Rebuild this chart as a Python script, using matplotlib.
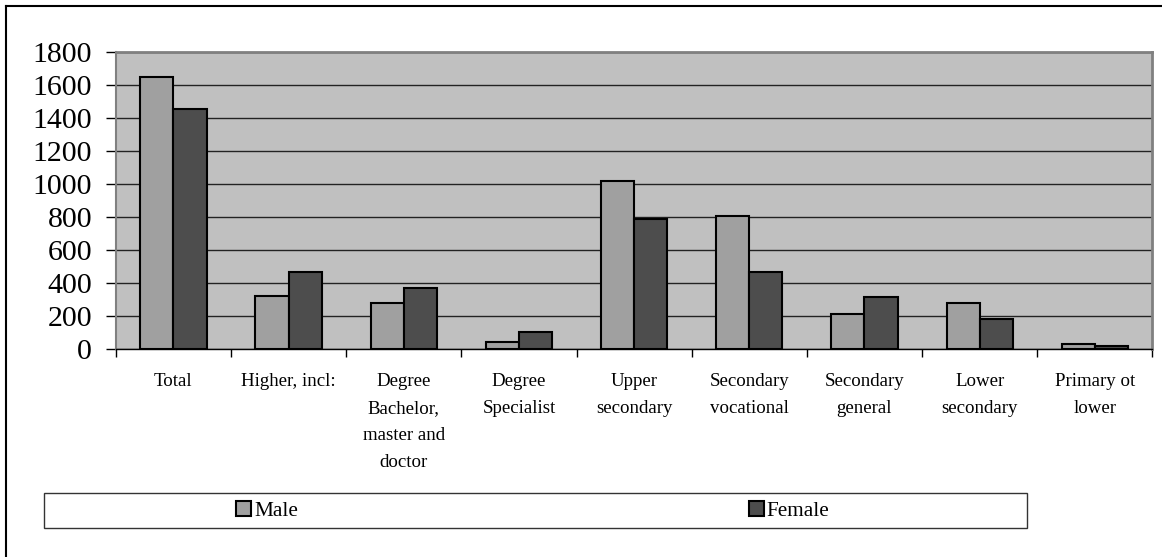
import matplotlib.pyplot as plt
import numpy as np
from matplotlib.lines import Line2D

categories = ["Total", "Higher, incl:", "Degree\nBachelor,\nmaster and\ndoctor",
              "Degree\nSpecialist", "Upper\nsecondary", "Secondary\nvocational",
              "Secondary\ngeneral", "Lower\nsecondary", "Primary ot\nlower"]
male = [1652, 323, 279, 44, 1022, 810, 214, 279, 32]
female = [1459, 471, 370, 103, 788, 469, 317, 182, 22]
yticks = [0, 200, 400, 600, 800, 1000, 1200, 1400, 1600, 1800]

plt.rcParams['font.family'] = ['Liberation Serif', 'DejaVu Serif']

fig = plt.figure(figsize=(11.62, 5.57), dpi=100)
ax = fig.add_axes([0.0996, 0.3729, 0.8922, 0.5332])

x = np.arange(len(categories))
w = 0.288
ax.set_facecolor('#c0c0c0')
ax.bar(x - w / 2, male, w, color='#a0a0a0', edgecolor='black', linewidth=1.5, zorder=3, label='Male')
ax.bar(x + w / 2, female, w, color='#4d4d4d', edgecolor='black', linewidth=1.5, zorder=3, label='Female')

ax.set_xlim(-0.5, len(categories) - 0.5)
ax.set_ylim(0, 1800)
ax.set_yticks(yticks)
ax.set_yticklabels([str(v) for v in yticks], fontsize=21.5)
ax.yaxis.grid(True, color='#222222', linewidth=1, zorder=1)
ax.set_axisbelow(True)

ax.set_xticks(x)
ax.set_xticklabels(categories, fontsize=13.6, linespacing=1.77, va='top')
ax.set_xticks(np.arange(len(categories) + 1) - 0.5, minor=True)
ax.tick_params(axis='x', which='major', length=0, pad=17)
ax.tick_params(axis='x', which='minor', length=6, width=1, color='black', direction='out')
ax.tick_params(axis='y', length=7, width=1, color='black', pad=10)

for s in ['top', 'right']:
    ax.spines[s].set_color('#808080')
    ax.spines[s].set_linewidth(2)
ax.spines['left'].set_color('#808080')
ax.spines['left'].set_linewidth(1.5)
ax.spines['bottom'].set_color('black')
ax.spines['bottom'].set_linewidth(1)

# legend box
fig.patches.append(plt.Rectangle((44 / 1162, 1 - 528 / 557), 983 / 1162, 35 / 557,
                                 transform=fig.transFigure, facecolor='white',
                                 edgecolor='#333333', linewidth=1))
handles, labels = ax.get_legend_handles_labels()
fig.legend(handles, labels, loc='center', bbox_to_anchor=(533 / 1162, 1 - 511 / 557),
           ncol=2, frameon=False, fontsize=15.3, handlelength=0.7, handleheight=0.7,
           handletextpad=0.15, columnspacing=21.2, borderpad=0)

# outer frame (left and top only visible)
fig.add_artist(Line2D([6 / 1162, 6 / 1162], [0, 1 - 6 / 557], transform=fig.transFigure,
                      color='black', linewidth=1.5))
fig.add_artist(Line2D([6 / 1162, 1], [1 - 6 / 557, 1 - 6 / 557], transform=fig.transFigure,
                      color='black', linewidth=1.5))

fig.savefig('out.png', dpi=100)
